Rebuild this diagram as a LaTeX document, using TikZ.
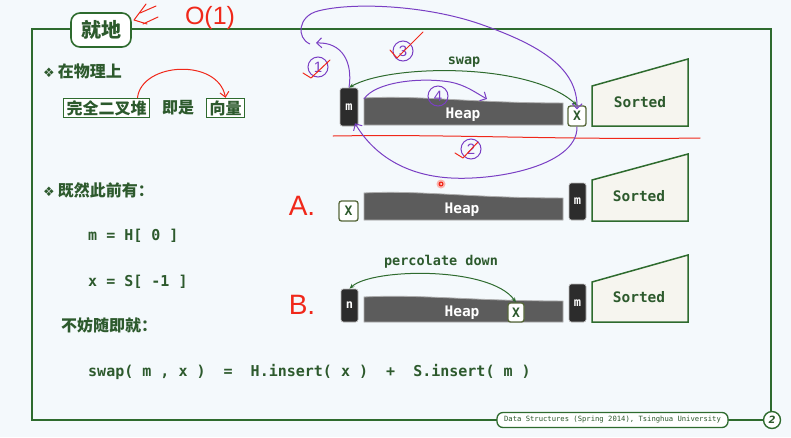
\documentclass[tikz,border=0pt]{standalone}
\usepackage{fontspec}
\newfontfamily\cjk{Noto Sans CJK SC}
\newfontfamily\mono{DejaVu Sans Mono}
\newfontfamily\dejavu{DejaVu Sans}
\newfontfamily\hand{Liberation Sans}
\usetikzlibrary{arrows.meta}
\definecolor{bg}{HTML}{F4F9FC}
\definecolor{dg}{HTML}{2E6B2E}
\definecolor{tg}{HTML}{2D5A2D}
\definecolor{hp}{HTML}{5C5C5C}
\definecolor{dk}{HTML}{2C2C2C}
\definecolor{pu}{HTML}{7A3FC4}
\definecolor{rd}{HTML}{F0281A}
\definecolor{so}{HTML}{F6F5EF}
\definecolor{xb}{HTML}{56673A}
\tikzset{
  frameline/.style={draw=dg, line width=1.8pt},
  tabbox/.style={draw=dg, line width=1.6pt, fill=white, rounded corners=9pt, minimum width=60, minimum height=34, font=\cjk\bfseries\fontsize{20}{20}\selectfont, text=tg},
  cnbox/.style={draw=dg, line width=1.3pt, fill=white, inner xsep=3pt, inner ysep=2pt, font=\cjk\bfseries\fontsize{16}{16}\selectfont, text=tg},
  cntext/.style={font=\cjk\bfseries\fontsize{16}{16}\selectfont, text=tg, inner sep=0pt},
  heading/.style={font=\cjk\bfseries\fontsize{16}{16}\selectfont, text=tg, anchor=west, inner sep=0pt},
  code/.style={font=\mono\bfseries\fontsize{15}{15}\selectfont, text=tg, anchor=west, inner sep=0pt},
  darkbox/.style={fill=dk, draw=gray!55, line width=0.7pt, rounded corners=2.5pt, text=white, font=\mono\bfseries\fontsize{12}{12}\selectfont, inner sep=0pt},
  xbox/.style={draw=xb, fill=white, line width=1.3pt, rounded corners=2.5pt, text=tg, font=\mono\bfseries\fontsize{13}{13}\selectfont, inner sep=0pt},
  heapshape/.style={fill=hp, draw=gray!65, line width=0.8pt},
  heaptext/.style={text=white, font=\mono\bfseries\fontsize{14.5}{14.5}\selectfont},
  sortshape/.style={fill=so, draw=dg, line width=1.5pt},
  sorttext/.style={text=tg, font=\mono\bfseries\fontsize{14.5}{14.5}\selectfont},
  glabel/.style={text=tg, font=\mono\bfseries\fontsize{13.5}{13.5}\selectfont},
  gline/.style={draw=dg, line width=1pt, {Stealth[length=5pt,width=4pt]}-{Stealth[length=5pt,width=4pt]}},
  purp/.style={draw=pu, line width=1pt, -{Straight Barb[length=5pt,width=10pt]}},
  purpnum/.style={circle, draw=pu, line width=1pt, minimum size=20, inner sep=0pt, text=pu, font=\hand\fontsize{15}{15}\selectfont},
  redink/.style={draw=rd, line width=1pt, line cap=round, line join=round},
  redtext/.style={text=rd, font=\hand\fontsize{28}{28}\selectfont, inner sep=0pt},
}
\begin{document}
\begin{tikzpicture}[x=1pt,y=-1pt]
\useasboundingbox (0,0) rectangle (791,437);
\fill[bg] (0,0) rectangle (791,437);

% frame
\draw[frameline] (32,29) rectangle (771,420);
\node[tabbox] (tab) at (101,30) {就地};

% red O(1) note
\draw[redink] (146,4) -- (134,20) -- (147,24);
\draw[redink] (140,13) -- (156,6);
\draw[redink] (143,24) -- (158,17);
\node[redtext, font=\hand\fontsize{25}{25}\selectfont] (o1) at (210,18) {O(1)};

% left text
\node[heading] (h1) at (43,71) {{\dejavu\fontsize{13}{13}\selectfont ❖}\hspace{3pt}在物理上};
\node[cnbox] (cb1) at (106.5,108) {完全二叉堆};
\node[cntext] (is) at (178,108) {即是};
\node[cnbox] (cb2) at (225.5,108) {向量};
\draw[redink, -{Straight Barb[length=5pt,width=9pt]}] ([xshift=31]cb1.north) .. controls (142,62) and (218,58) .. (cb2.north);

\node[heading] (h2) at (43,190) {{\dejavu\fontsize{13}{13}\selectfont ❖}\hspace{3pt}既然此前有：};
\node[code] (c1) at (88,236) {m = H[ 0 ]};
\node[code] (c2) at (88,282) {x = S[ -1 ]};
\node[heading] (h3) at (61,325) {不妨随即就：};
\node[code] (c3) at (88,372) {swap( m , x )\ \ =\ \ H.insert( x )\ \ +\ \ S.insert( m )};

% footer
\node[draw=dg, line width=1.3pt, fill=white, rounded corners=6pt, minimum width=231, minimum height=15, inner sep=0pt, text=tg, font=\mono\fontsize{7.2}{7.2}\selectfont] (foot) at (612.5,420) {Data Structures (Spring 2014), Tsinghua University};
\node[circle, draw=dg, line width=1.4pt, fill=white, minimum size=17, inner sep=0pt, text=tg, font=\dejavu\bfseries\itshape\fontsize{10}{10}\selectfont] (pg) at (772,420) {2};

% ---------- row 1 ----------
\filldraw[heapshape] (364,98) .. controls (420,95) and (470,103) .. (563,103) -- (563,125) -- (364,125) -- cycle;
\coordinate (hp1) at (364,99);
\node[heaptext] (heap1) at (463,115) {Heap};
\node[darkbox, minimum width=18, minimum height=38] (m1) at (349,107) {m};
\node[xbox, minimum width=18, minimum height=20] (x1) at (577,116) {X};
\filldraw[sortshape] (592,86) -- (688,59) -- (688,126) -- (592,126) -- cycle;
\node[sorttext] (s1) at (640,102) {Sorted};
\draw[gline] (m1.north) .. controls (390,64) and (530,62) .. (x1.north);
\node[glabel] (swap) at (464,62) {swap};

% red separation line
\draw[redink] (333,136) .. controls (450,134) and (560,140) .. (700,138);

% ---------- row A ----------
\node[redtext] (la) at (302,206) {A.};
\filldraw[heapshape] (364,193) .. controls (420,190) and (470,198) .. (563,198) -- (563,220) -- (364,220) -- cycle;
\node[heaptext] (heapA) at (462,210) {Heap};
\node[xbox, minimum width=19, minimum height=20] (xA) at (348.5,211) {X};
\node[darkbox, minimum width=17, minimum height=37] (mA) at (577.5,201.5) {m};
\filldraw[sortshape] (592,180) -- (688,154) -- (688,221) -- (592,221) -- cycle;
\node[sorttext] (sA) at (639,196) {Sorted};

% ---------- row B ----------
\node[redtext] (lb) at (302,305) {B.};
\filldraw[heapshape] (364,297) .. controls (420,294) and (470,301) .. (563,301) -- (563,322) -- (364,322) -- cycle;
\node[heaptext] (heapB) at (462,313) {Heap};
\node[darkbox, minimum width=17, minimum height=33] (nB) at (349.5,305.5) {n};
\node[xbox, minimum width=16, minimum height=19] (xB) at (516,312.5) {X};
\node[darkbox, minimum width=17, minimum height=38] (mB) at (577.5,303) {m};
\filldraw[sortshape] (592,282) -- (688,255) -- (688,322) -- (592,322) -- cycle;
\node[sorttext] (sB) at (639,297) {Sorted};
\draw[gline] (nB.north) .. controls (372,268) and (490,266) .. (xB.north);
\node[glabel] (perc) at (441,262) {percolate down};

% ---------- purple annotations ----------
\coordinate (p1) at (316,43);
\coordinate (p3) at (310,44);
\draw[purp] (m1.north) .. controls (353,62) and (342,42) .. (p1);
\draw[purp] (p3) .. controls (296,38) and (298,16) .. (318,11) .. controls (352,2) and (425,5) .. (480,24) .. controls (540,45) and (578,68) .. ([yshift=-4]x1.north);
\draw[purp] (x1.south) .. controls (578,168) and (485,183) .. (440,177) .. controls (400,172) and (372,152) .. ([xshift=6,yshift=3]m1.south);
\draw[purp] (hp1) .. controls (375,82) and (420,77) .. (450,82) .. controls (466,85) and (476,93) .. (487,99);
\node[purpnum] (n1) at (318,67) {1};
\node[purpnum] (n3) at (403,51) {3};
\node[purpnum] (n4) at (438,96) {4};
\node[purpnum] (n2) at (471,149) {2};
% red ticks
\draw[redink] (303,73) -- (311,78) -- (330,60);
\draw[redink] (390,50) -- (397,58) -- (423,32);
\draw[redink] (455,153) -- (463,158) -- (478,142);

% pointer dot
\fill[rd!35] (441,184) circle (4.5);
\fill[rd] (441,184) circle (2.5);
\fill[white] (441,184) circle (1);
\end{tikzpicture}
\end{document}
